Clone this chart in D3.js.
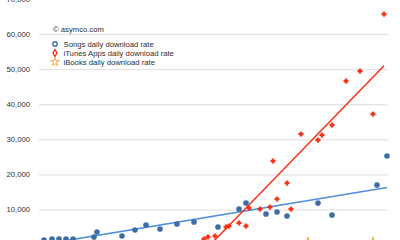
<!DOCTYPE html>
<html>
<head>
<meta charset="utf-8">
<script src="https://cdn.jsdelivr.net/npm/d3@7"></script>
<style>
  html, body { margin: 0; padding: 0; background: #fff; }
  svg { display: block; font-family: "Liberation Sans", Arial, Helvetica, sans-serif; }
</style>
</head>
<body>
<svg id="chart" width="400" height="240"></svg>
<script>
// Songs daily download rate (t = time position, v = downloads per day)
const songsT = [5, 13, 20, 27, 34, 55, 58, 83, 96, 107, 121, 138, 155, 179, 200, 207, 227, 238, 248, 279, 293, 338, 348];
const songsV = [1310, 1600, 1600, 1600, 1600, 2170, 3590, 2450, 4160, 5590, 4450, 5870, 6440, 5020, 10140, 11850, 8720, 9290, 8150, 11850, 8440, 16980, 25240];

// iTunes Apps daily download rate
const appsT = [165, 169, 176, 187, 190, 200, 207, 210, 221, 231, 234, 238, 248, 252, 262, 279, 283, 293, 307, 321, 334, 345];
const appsV = [1600, 2170, 2450, 5020, 5300, 6160, 5300, 10430, 10140, 10710, 23820, 12990, 17550, 10140, 31510, 29800, 31230, 34070, 46610, 49460, 37210, 65700];

// iBooks daily download rate
const booksT = [269, 334];
const booksV = [450, 450];

// Linear trend lines (endpoints)
const songsTrendT = [5, 348];
const songsTrendV = [110, 16270];
const appsTrendT = [165, 345];
const appsTrendV = [-1910, 50970];

const yTicks = [10000, 20000, 30000, 40000, 50000, 60000, 70000];

const legendItems = ["Songs daily download rate", "iTunes Apps daily download rate", "iBooks daily download rate"];
const creditText = "\u00A9 asymco.com";

const BLUE = "#3d6ca6", BLUE_LINE = "#4f8fd6", RED = "#fb2a0e", ORANGE = "#f3a638", TEXT = "#2e2e2e";

const svg = d3.select("#chart");
svg.append("rect").attr("width", 400).attr("height", 240).attr("fill", "#fff");

const x = d3.scaleLinear().domain([0, 350]).range([39, 389]);
const y = d3.scaleLinear().domain([0, 70000]).range([244.6, -1]);

// Horizontal grid + value labels
const yAxis = d3.axisLeft(y)
  .tickValues(yTicks)
  .tickSize(-(388 - 39))
  .tickPadding(9)
  .tickFormat(d3.format(","));

const gy = svg.append("g").attr("transform", "translate(39,0)").call(yAxis);
gy.select(".domain").remove();
gy.selectAll(".tick line").attr("stroke", "#dedede").attr("stroke-width", 1);
gy.selectAll(".tick text")
  .attr("fill", TEXT)
  .style("font-size", "7.7px")
  .style("font-family", "\"Liberation Sans\", Arial, sans-serif");

// Trend lines
const line = d3.line().x(d => x(d[0])).y(d => y(d[1]));
svg.append("path")
  .datum(songsTrendT.map((t, i) => [t, songsTrendV[i]]))
  .attr("d", line).attr("fill", "none").attr("stroke", BLUE_LINE).attr("stroke-width", 1.6);
svg.append("path")
  .datum(appsTrendT.map((t, i) => [t, appsTrendV[i]]))
  .attr("d", line).attr("fill", "none").attr("stroke", RED).attr("stroke-width", 1.4);

// iBooks points (stars)
const star = d3.symbol().type(d3.symbolStar).size(40);
svg.append("g").selectAll("path")
  .data(booksT.map((t, i) => [t, booksV[i]]))
  .join("path")
  .attr("d", star)
  .attr("transform", d => `translate(${x(d[0])},${y(d[1])})`)
  .attr("fill", "none").attr("stroke", ORANGE).attr("stroke-width", 1);

// Songs points
svg.append("g").selectAll("circle")
  .data(songsT.map((t, i) => [t, songsV[i]]))
  .join("circle")
  .attr("cx", d => x(d[0])).attr("cy", d => y(d[1]))
  .attr("r", 2.8).attr("fill", BLUE);

// Apps points (small crosses)
const cross = d3.symbol().type(d3.symbolCross).size(10);
svg.append("g").selectAll("path")
  .data(appsT.map((t, i) => [t, appsV[i]]))
  .join("path")
  .attr("d", cross)
  .attr("transform", d => `translate(${x(d[0])},${y(d[1])})`)
  .attr("fill", RED).attr("stroke", RED).attr("stroke-width", 0.9).attr("stroke-linejoin", "round");

// Credit and legend
svg.append("text")
  .attr("x", 53).attr("y", 29).attr("dy", "0.35em")
  .attr("fill", TEXT).style("font-size", "7.7px")
  .text(creditText);

const lg = svg.append("g");
const rows = [44, 53, 62];
lg.selectAll("text")
  .data(legendItems)
  .join("text")
  .attr("x", 63.5).attr("y", (d, i) => rows[i]).attr("dy", "0.35em")
  .attr("fill", TEXT).style("font-size", "7.7px")
  .text(d => d);

lg.append("circle").attr("cx", 55).attr("cy", rows[0]).attr("r", 2.2)
  .attr("fill", "none").attr("stroke", BLUE).attr("stroke-width", 1.4);
lg.append("path")
  .attr("d", d3.symbol().type(d3.symbolDiamond).size(14)())
  .attr("transform", `translate(55,${rows[1]})`)
  .attr("fill", "none").attr("stroke", RED).attr("stroke-width", 1.3);
lg.append("path")
  .attr("d", d3.symbol().type(d3.symbolStar).size(22)())
  .attr("transform", `translate(55,${rows[2]})`)
  .attr("fill", "none").attr("stroke", ORANGE).attr("stroke-width", 1);
</script>
</body>
</html>
